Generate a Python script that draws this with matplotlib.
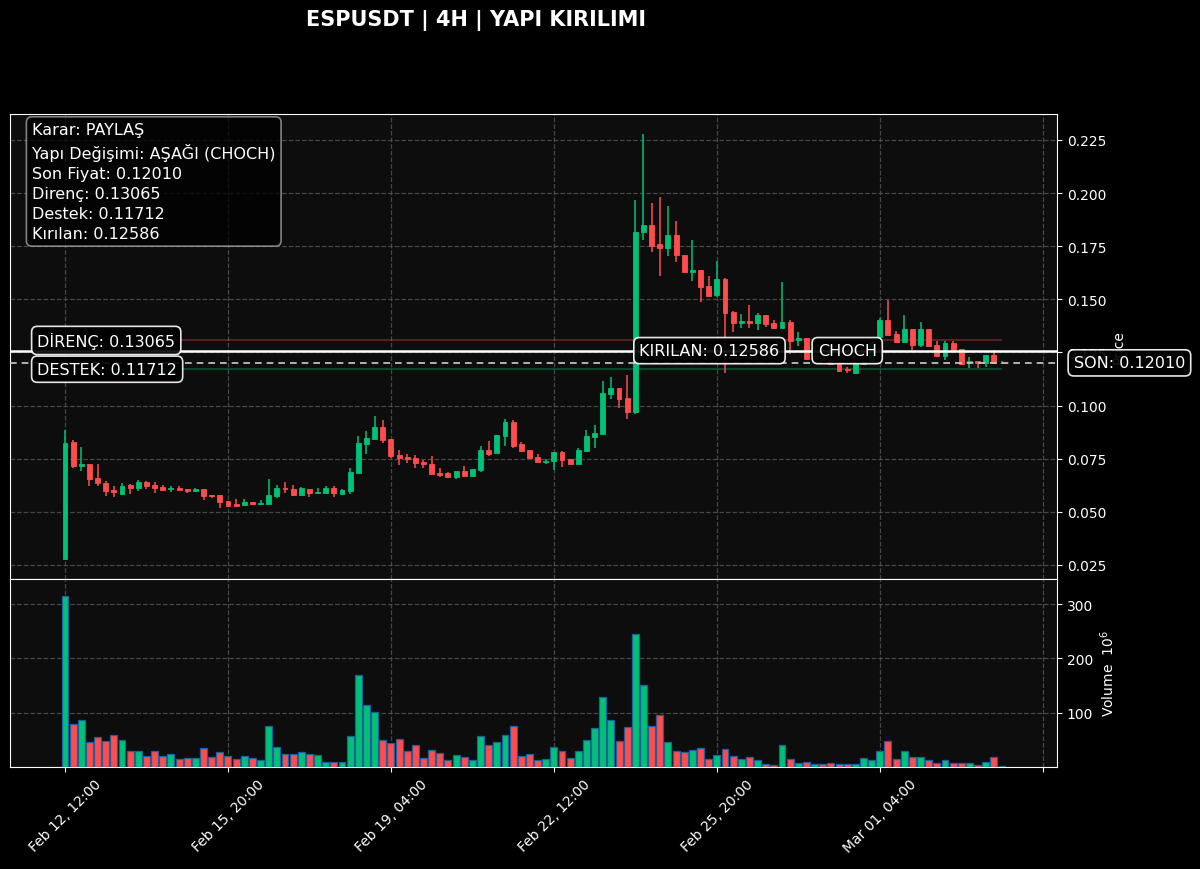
import matplotlib
matplotlib.use("Agg")
import matplotlib.pyplot as plt
import matplotlib.transforms as mtransforms
import numpy as np
import pandas as pd

# ESPUSDT 4H candles
start = "2025-02-12 12:00"
opens = [0.0277, 0.0830, 0.0717, 0.0725, 0.0658, 0.0638, 0.0604, 0.0584, 0.0626, 0.0612,
         0.0642, 0.0626, 0.0617, 0.0606, 0.0612, 0.0608, 0.0599, 0.0608, 0.0581, 0.0578,
         0.0551, 0.0537, 0.0532, 0.0546, 0.0539, 0.0539, 0.0573, 0.0614, 0.0608, 0.0578,
         0.0608, 0.0587, 0.0591, 0.0611, 0.0586, 0.0598, 0.0683, 0.0821, 0.0844, 0.0898,
         0.0841, 0.0768, 0.0758, 0.0752, 0.0735, 0.0724, 0.0683, 0.0683, 0.0664, 0.0694,
         0.0670, 0.0697, 0.0790, 0.0776, 0.0857, 0.0921, 0.0818, 0.0793, 0.0757, 0.0735,
         0.0738, 0.0780, 0.0749, 0.0724, 0.0788, 0.0851, 0.0865, 0.1055, 0.1081, 0.1036,
         0.0970, 0.1815, 0.1852, 0.1758, 0.1740, 0.1803, 0.1710, 0.1630, 0.1638, 0.1563,
         0.1521, 0.1596, 0.1439, 0.1389, 0.1400, 0.1387, 0.1428, 0.1389, 0.1365, 0.1392,
         0.1309, 0.1318, 0.1220, 0.1232, 0.1215, 0.1196, 0.1172, 0.1154, 0.1196, 0.1207,
         0.1321, 0.1405, 0.1337, 0.1301, 0.1361, 0.1287, 0.1361, 0.1287, 0.1232, 0.1295,
         0.1266, 0.1207, 0.1212, 0.1199, 0.1238, 0.1200]
highs = [0.0887, 0.0838, 0.0804, 0.0725, 0.0725, 0.0647, 0.0623, 0.0636, 0.0631, 0.0650,
         0.0647, 0.0641, 0.0625, 0.0622, 0.0620, 0.0608, 0.0614, 0.0608, 0.0581, 0.0578,
         0.0551, 0.0561, 0.0561, 0.0546, 0.0554, 0.0655, 0.0626, 0.0642, 0.0626, 0.0619,
         0.0608, 0.0614, 0.0620, 0.0620, 0.0608, 0.0705, 0.0855, 0.0882, 0.0950, 0.0934,
         0.0841, 0.0793, 0.0774, 0.0768, 0.0746, 0.0763, 0.0705, 0.0689, 0.0694, 0.0717,
         0.0702, 0.0812, 0.0832, 0.0862, 0.0937, 0.0932, 0.0827, 0.0793, 0.0772, 0.0749,
         0.0780, 0.0788, 0.0749, 0.0801, 0.0885, 0.0909, 0.1114, 0.1136, 0.1081, 0.1144,
         0.1968, 0.2278, 0.1955, 0.1980, 0.1939, 0.1869, 0.1710, 0.1779, 0.1638, 0.1609,
         0.1681, 0.1599, 0.1447, 0.1431, 0.1475, 0.1434, 0.1428, 0.1403, 0.1580, 0.1403,
         0.1348, 0.1318, 0.1245, 0.1240, 0.1225, 0.1200, 0.1180, 0.1200, 0.1212, 0.1300,
         0.1410, 0.1499, 0.1353, 0.1426, 0.1361, 0.1395, 0.1361, 0.1306, 0.1306, 0.1306,
         0.1266, 0.1227, 0.1212, 0.1238, 0.1262, 0.1210]
lows = [0.0275, 0.0705, 0.0694, 0.0620, 0.0623, 0.0576, 0.0572, 0.0581, 0.0584, 0.0600,
        0.0606, 0.0591, 0.0605, 0.0595, 0.0604, 0.0587, 0.0592, 0.0556, 0.0565, 0.0517,
        0.0526, 0.0524, 0.0532, 0.0532, 0.0539, 0.0539, 0.0567, 0.0589, 0.0575, 0.0573,
        0.0572, 0.0584, 0.0591, 0.0572, 0.0586, 0.0584, 0.0683, 0.0774, 0.0844, 0.0824,
        0.0754, 0.0722, 0.0732, 0.0708, 0.0708, 0.0677, 0.0663, 0.0658, 0.0653, 0.0667,
        0.0667, 0.0686, 0.0765, 0.0776, 0.0808, 0.0799, 0.0780, 0.0753, 0.0733, 0.0724,
        0.0699, 0.0710, 0.0724, 0.0724, 0.0780, 0.0801, 0.0865, 0.1031, 0.0989, 0.0937,
        0.0960, 0.1781, 0.1723, 0.1612, 0.1703, 0.1674, 0.1627, 0.1588, 0.1486, 0.1513,
        0.1510, 0.1152, 0.1345, 0.1365, 0.1365, 0.1358, 0.1368, 0.1362, 0.1365, 0.1245,
        0.1282, 0.1215, 0.1212, 0.1210, 0.1190, 0.1160, 0.1153, 0.1150, 0.1190, 0.1200,
        0.1300, 0.1332, 0.1295, 0.1298, 0.1263, 0.1274, 0.1282, 0.1232, 0.1216, 0.1263,
        0.1191, 0.1175, 0.1175, 0.1180, 0.1199, 0.1198]
closes = [0.0824, 0.0714, 0.0724, 0.0655, 0.0634, 0.0600, 0.0595, 0.0623, 0.0612, 0.0642,
          0.0622, 0.0611, 0.0605, 0.0612, 0.0605, 0.0598, 0.0609, 0.0576, 0.0573, 0.0548,
          0.0529, 0.0529, 0.0545, 0.0539, 0.0542, 0.0579, 0.0612, 0.0608, 0.0578, 0.0610,
          0.0589, 0.0592, 0.0611, 0.0587, 0.0603, 0.0686, 0.0824, 0.0849, 0.0898, 0.0838,
          0.0763, 0.0754, 0.0749, 0.0730, 0.0724, 0.0677, 0.0675, 0.0663, 0.0692, 0.0670,
          0.0702, 0.0790, 0.0772, 0.0862, 0.0921, 0.0812, 0.0788, 0.0753, 0.0736, 0.0739,
          0.0780, 0.0746, 0.0724, 0.0793, 0.0856, 0.0870, 0.1060, 0.1081, 0.1031, 0.0968,
          0.1819, 0.1852, 0.1753, 0.1740, 0.1803, 0.1709, 0.1630, 0.1640, 0.1560, 0.1517,
          0.1596, 0.1436, 0.1389, 0.1400, 0.1387, 0.1428, 0.1384, 0.1365, 0.1392, 0.1306,
          0.1318, 0.1220, 0.1232, 0.1215, 0.1196, 0.1164, 0.1168, 0.1196, 0.1207, 0.1300,
          0.1405, 0.1332, 0.1301, 0.1361, 0.1287, 0.1361, 0.1282, 0.1232, 0.1295, 0.1263,
          0.1196, 0.1212, 0.1199, 0.1238, 0.1200, 0.1201]
# volume in millions
volumes = [315, 80, 86, 46, 56, 48, 59, 49, 30, 29, 21, 30, 20, 24, 15, 17, 16, 35, 19, 27,
           21, 15, 20, 16, 13, 75, 36, 24, 24, 27, 24, 22, 10, 10, 9, 58, 169, 114, 102, 49,
           44, 51, 30, 41, 16, 31, 26, 13, 22, 19, 13, 57, 40, 47, 59, 75, 21, 24, 13, 14,
           36, 30, 17, 29, 49, 71, 129, 87, 48, 73, 246, 151, 76, 96, 46, 30, 27, 31, 35, 14,
           22, 33, 21, 14, 19, 12, 6, 4, 40, 14, 8, 10, 5, 6, 8, 6, 6, 6, 17, 12,
           30, 48, 15, 30, 19, 19, 12, 8, 12, 8, 8, 7, 3, 9, 19, 2]

resistance = 0.13065
support = 0.11712
broken = 0.12586
last_price = 0.12010
choch_idx = 96
broken_idx = 70.5

info_lines = ["Karar: PAYLAŞ", "Yapı Değişimi: AŞAĞI (CHOCH)", "Son Fiyat: 0.12010",
              "Direnç: 0.13065", "Destek: 0.11712", "Kırılan: 0.12586"]

UP = "#00c176"
DOWN = "#ff4d4d"
FACE = "#0d0d0d"
FS = 11.5

o = np.array(opens); h = np.array(highs); l = np.array(lows); c = np.array(closes)
v = np.array(volumes)
x = np.arange(len(o))
dates = pd.date_range(start, periods=len(o), freq="4h")
cols = np.where(c >= o, UP, DOWN)

fig = plt.figure(figsize=(12, 8.7), dpi=100, facecolor="black")
ax1 = fig.add_axes([0.00833, 0.33333, 0.8725, 0.53448], facecolor=FACE)
ax2 = fig.add_axes([0.00833, 0.11724, 0.8725, 0.21609], facecolor=FACE, sharex=ax1)

# candles
ax1.vlines(x, l, h, colors=cols, linewidth=1.1, zorder=2)
ax1.bar(x, np.abs(c - o), bottom=np.minimum(o, c), width=0.6, color=cols,
        edgecolor=cols, linewidth=0.6, zorder=3)

# volume
ax2.bar(x, v, width=0.85, color=cols, edgecolor="#1f5f9f", linewidth=0.9, zorder=3)

# levels
ax1.hlines(resistance, 0, x[-1], color=DOWN, alpha=0.3, linewidth=1.5, zorder=1)
ax1.hlines(support, 0, x[-1], color=UP, alpha=0.3, linewidth=1.5, zorder=1)
ax1.axhline(broken, color="white", linewidth=1.8, zorder=4)
ax1.axhline(last_price, color="#cccccc", linewidth=1.2, linestyle=(0, (4, 3)), zorder=4)

box = dict(boxstyle="round,pad=0.35", fc="black", ec="white", lw=1.2, alpha=0.9)
trans = mtransforms.blended_transform_factory(ax1.transAxes, ax1.transData)
ax1.text(0.026, resistance, f"DİRENÇ: {resistance:.5f}", transform=trans, color="white",
         fontsize=FS, va="center", ha="left", bbox=box, zorder=6)
ax1.text(0.026, support, f"DESTEK: {support:.5f}", transform=trans, color="white",
         fontsize=FS, va="center", ha="left", bbox=box, zorder=6)
ax1.text(broken_idx, broken, f"KIRILAN: {broken:.5f}", color="white", fontsize=FS,
         va="center", ha="left", bbox=box, zorder=6)
ax1.text(choch_idx, broken, "CHOCH", color="white", fontsize=FS, va="center",
         ha="center", bbox=box, zorder=6)
ax1.text(1.016, last_price, f"SON: {last_price:.5f}", transform=trans, color="white",
         fontsize=FS, va="center", ha="left", bbox=box, zorder=6, clip_on=False)

ax1.text(0.021, 0.982, "\n".join(info_lines), transform=ax1.transAxes, color="white",
         fontsize=FS, va="top", ha="left", zorder=7, linespacing=1.4,
         bbox=dict(boxstyle="round,pad=0.35", fc="black", ec="#aaaaaa", lw=1.2, alpha=0.75))

ax1.set_ylim(0.0184, 0.2372)
ax1.set_yticks(np.arange(0.025, 0.226, 0.025))
ax1.yaxis.set_major_formatter(matplotlib.ticker.FormatStrFormatter("%.3f"))
ax2.set_ylim(0, v.max() * 1.1)
ax2.set_yticks([100, 200, 300])
ax1.set_xlim(-6.75, 121.75)

ticks = np.arange(0, 121, 20)
labels = [dates[t].strftime("%b %d, %H:%M") if t < len(dates) else "" for t in ticks]
ax2.set_xticks(ticks)
ax2.set_xticklabels(labels, rotation=45, fontsize=10)
plt.setp(ax1.get_xticklabels(), visible=False)

for ax in (ax1, ax2):
    ax.yaxis.tick_right()
    ax.yaxis.set_label_position("right")
    ax.tick_params(colors="white", labelsize=10)
    ax.grid(True, color="#555555", linestyle="--", linewidth=0.9, alpha=0.8)
    ax.set_axisbelow(True)
    for s in ax.spines.values():
        s.set_color("white")
ax1.tick_params(axis="x", length=0)
ax1.set_ylabel("Price", color="white", fontsize=10)
ax2.set_ylabel("Volume  $10^{6}$", color="white", fontsize=10)

fig.text(0.397, 0.977, "ESPUSDT | 4H | YAPI KIRILIMI", color="white", fontsize=15,
         fontweight="bold", ha="center", va="center")

fig.savefig("out.png", dpi=100, facecolor="black")
